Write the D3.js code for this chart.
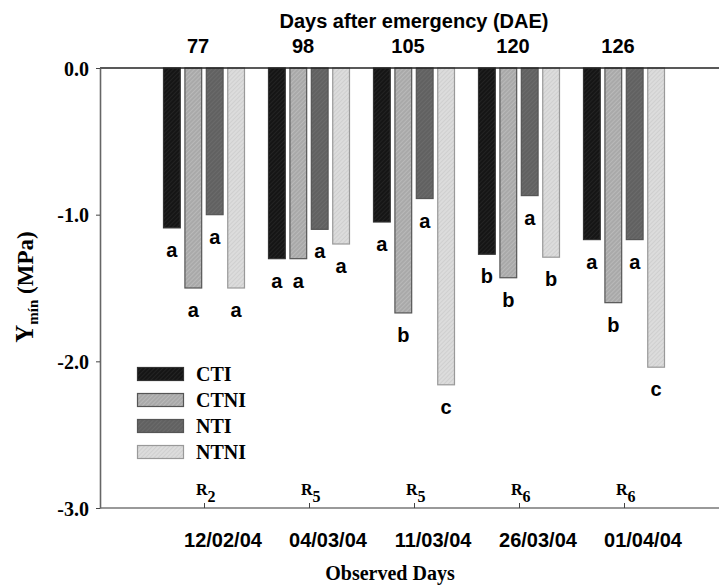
<!DOCTYPE html>
<html><head><meta charset="utf-8">
<script src="https://cdn.jsdelivr.net/npm/d3@7"></script>
<style>
html,body{margin:0;padding:0;background:#fff;}
svg{display:block;}
.sans{font-family:"Liberation Sans",Arial,sans-serif;font-weight:bold;}
.serif{font-family:"Liberation Serif","Times New Roman",serif;font-weight:bold;}
</style></head>
<body>
<svg id="chart" width="719" height="588"></svg>
<script>
// ---- data ----
const dae = ["77", "98", "105", "120", "126"];
const dates = ["12/02/04", "04/03/04", "11/03/04", "26/03/04", "01/04/04"];
const stages = ["2", "5", "5", "6", "6"];
const series = ["CTI", "CTNI", "NTI", "NTNI"];
const cti  = [-1.09, -1.30, -1.05, -1.27, -1.17];
const ctni = [-1.50, -1.30, -1.67, -1.43, -1.60];
const nti  = [-1.00, -1.10, -0.89, -0.87, -1.17];
const ntni = [-1.50, -1.20, -2.16, -1.29, -2.04];
const ctiLetters  = ["a", "a", "a", "b", "a"];
const ctniLetters = ["a", "a", "b", "b", "b"];
const ntiLetters  = ["a", "a", "a", "a", "a"];
const ntniLetters = ["a", "a", "c", "b", "c"];
const yTicks = [0, -1, -2, -3];
const yTickLabels = ["0.0", "-1.0", "-2.0", "-3.0"];

const values = {CTI: cti, CTNI: ctni, NTI: nti, NTNI: ntni};
const letters = {CTI: ctiLetters, CTNI: ctniLetters, NTI: ntiLetters, NTNI: ntniLetters};

// ---- styles ----
const W = 719;
const styles = {
  CTI:  {base: "#151515", line: "#2c2c2c", stroke: "#333"},
  CTNI: {base: "#a9a9a9", line: "#c4c4c4", stroke: "#555"},
  NTI:  {base: "#616161", line: "#727272", stroke: "#555"},
  NTNI: {base: "#dcdcdc", line: "#c6c6c6", stroke: "#999"}
};

const svg = d3.select("#chart");
const defs = svg.append("defs");
series.forEach(s => {
  const p = defs.append("pattern").attr("id", "pat-" + s)
    .attr("patternUnits", "userSpaceOnUse").attr("width", 3).attr("height", 3)
    .attr("patternTransform", "rotate(45)");
  p.append("rect").attr("width", 3).attr("height", 3).attr("fill", styles[s].base);
  p.append("line").attr("x1", 0).attr("y1", 0).attr("x2", 0).attr("y2", 3)
    .attr("stroke", styles[s].line).attr("stroke-width", 1.2);
});

const y = d3.scaleLinear().domain([0, -3]).range([68, 508]);
const x = d3.scaleLinear().domain([0, 6]).range([99, 729]);
const inner = d3.scaleBand().domain(series).range([-41, 41]).paddingInner(0.17);
const idx = d3.range(dae.length);

// bars
series.forEach(s => {
  svg.append("g").selectAll("rect").data(idx).join("rect")
    .attr("x", i => x(i + 1) + inner(s) + 0.5)
    .attr("y", y(0))
    .attr("width", inner.bandwidth() - 1)
    .attr("height", i => y(values[s][i]) - y(0))
    .attr("fill", "url(#pat-" + s + ")")
    .attr("stroke", styles[s].stroke)
    .attr("stroke-width", 1.2);
});

// significance letters
series.forEach(s => {
  svg.append("g").selectAll("text").data(idx).join("text")
    .attr("class", "sans")
    .attr("font-size", 20)
    .attr("text-anchor", "middle")
    .attr("x", i => x(i + 1) + inner(s) + inner.bandwidth() / 2)
    .attr("y", i => y(values[s][i]) + 29)
    .text(i => letters[s][i]);
});

// frame lines
svg.append("line").attr("x1", 100).attr("x2", W).attr("y1", y(0)).attr("y2", y(0))
  .attr("stroke", "#222").attr("stroke-width", 1.6);
svg.append("line").attr("x1", 100).attr("x2", W).attr("y1", y(-3)).attr("y2", y(-3))
  .attr("stroke", "#777").attr("stroke-width", 1.6);

// left axis
const yAxis = svg.append("g").attr("transform", "translate(100,0)")
  .call(d3.axisLeft(y).tickValues(yTicks).tickSize(4).tickSizeOuter(0)
    .tickFormat((d, i) => yTickLabels[i]));
yAxis.select(".domain").attr("stroke", "#666").attr("stroke-width", 1.6);
yAxis.selectAll(".tick line").attr("stroke", "#444");
yAxis.selectAll(".tick text").attr("class", "serif").attr("font-size", 20)
  .attr("fill", "#000").attr("x", -11).attr("dy", "0.35em");

// bottom ticks
const xAxis = svg.append("g").attr("transform", `translate(0,${y(-3)})`)
  .call(d3.axisTop(x).tickValues(idx.map(i => i + 1)).tickSize(5).tickFormat(""));
xAxis.select(".domain").remove();
xAxis.selectAll(".tick line").attr("stroke", "#444");

// R stage labels
const rl = svg.append("g").selectAll("text").data(idx).join("text")
  .attr("class", "serif").attr("font-size", 16)
  .attr("x", i => x(i + 1) - 8).attr("y", 495);
rl.append("tspan").text("R");
rl.append("tspan").attr("dy", 7).text(i => stages[i]);

// date labels
svg.append("g").selectAll("text").data(idx).join("text")
  .attr("class", "sans").attr("font-size", 20).attr("text-anchor", "middle")
  .attr("x", i => x(i + 1) + 19).attr("y", 547)
  .text(i => dates[i]);

// DAE labels
svg.append("g").selectAll("text").data(idx).join("text")
  .attr("class", "sans").attr("font-size", 20).attr("text-anchor", "middle")
  .attr("x", i => x(i + 1) - 6).attr("y", 53)
  .text(i => dae[i]);

// titles
svg.append("text").attr("class", "sans").attr("font-size", 20).attr("text-anchor", "middle")
  .attr("x", 414).attr("y", 28).text("Days after emergency (DAE)");
svg.append("text").attr("class", "serif").attr("font-size", 20).attr("text-anchor", "middle")
  .attr("x", 390).attr("y", 580).text("Observed Days");

const yt = svg.append("text").attr("class", "serif").attr("font-size", 23)
  .attr("text-anchor", "middle")
  .attr("transform", "translate(33,287) rotate(-90)");
yt.append("tspan").attr("font-size", 25).text("Y");
yt.append("tspan").attr("font-size", 15).attr("dy", 5).text("mín");
yt.append("tspan").attr("dy", -5).text(" (MPa)");

// legend
const lg = svg.append("g");
series.forEach((s, i) => {
  lg.append("rect").attr("x", 137.5).attr("y", 367.5 + i * 26)
    .attr("width", 46).attr("height", 13)
    .attr("fill", "url(#pat-" + s + ")").attr("stroke", styles[s].stroke).attr("stroke-width", 1.2);
  lg.append("text").attr("class", "serif").attr("font-size", 20)
    .attr("x", 196).attr("y", 381 + i * 26).text(s);
});
</script>
</body></html>
